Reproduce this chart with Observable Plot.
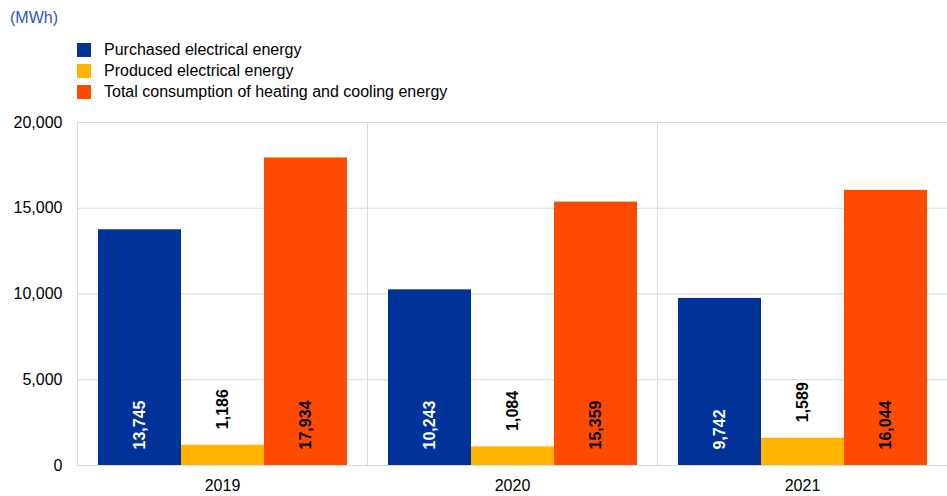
<!DOCTYPE html>
<html>
<head>
<meta charset="utf-8">
<script src="https://cdn.jsdelivr.net/npm/d3@7"></script>
<script src="https://cdn.jsdelivr.net/npm/@observablehq/plot@0.6"></script>
<style>
  html, body { margin: 0; padding: 0; background: #fff; }
  body { width: 947px; height: 496px; overflow: hidden; font-family: "Liberation Sans", Arial, sans-serif; }
  #header { position: relative; height: 105px; }
  #unit { position: absolute; left: 10px; top: 8px; font-size: 16px; color: #2a56c6; line-height: 20px; }
  #legend { position: absolute; left: 77px; top: 39px; font-size: 16px; color: #000; }
  .item { display: flex; align-items: center; height: 21.3px; }
  .sw { width: 14px; height: 14px; margin-right: 13px; flex: none; }
  #chart svg { display: block; }
</style>
</head>
<body>
<div id="header">
  <div id="unit">(MWh)</div>
  <div id="legend"></div>
</div>
<div id="chart"></div>
<script>
const years = ["2019", "2020", "2021"];
const series = [
  "Purchased electrical energy",
  "Produced electrical energy",
  "Total consumption of heating and cooling energy"
];
const purchased = [13745, 10243, 9742];
const produced = [1186, 1084, 1589];
const heating = [17934, 15359, 16044];
const yTicks = [0, 5000, 10000, 15000, 20000];
const colors = ["#003299", "#ffb400", "#ff4b00"];
const labelColors = ["#ffffff", "#000000", "#000000"];

const valuesBySeries = [purchased, produced, heating];
const rows = [];
years.forEach((year, i) => {
  series.forEach((s, j) => {
    rows.push({year, series: s, value: valuesBySeries[j][i]});
  });
});

// legend
const legend = d3.select("#legend");
series.forEach((s, j) => {
  const item = legend.append("div").attr("class", "item");
  item.append("div").attr("class", "sw").style("background", colors[j]);
  item.append("span").text(s);
});

const gridColor = "#d9d9d9";
const fmt = d3.format(",d");

function separators(index, scales, values, dimensions) {
  const g = d3.create("svg:g");
  g.append("line")
    .attr("x1", dimensions.marginLeft + 0.5)
    .attr("x2", dimensions.marginLeft + 0.5)
    .attr("y1", dimensions.marginTop)
    .attr("y2", dimensions.height - dimensions.marginBottom)
    .attr("stroke", gridColor);
  return g.node();
}

const labelMarks = series.map((s, j) => Plot.text(rows, {
  filter: d => d.series === s,
  fx: "year",
  x: "series",
  y: d => (j === 1 ? d.value : 0),
  text: d => fmt(d.value),
  rotate: -90,
  textAnchor: "start",
  dy: -16,
  fill: labelColors[j],
  fontWeight: "bold",
  fontSize: 16
}));

const chart = Plot.plot({
  width: 947,
  height: 391,
  marginLeft: 77,
  marginRight: 0,
  marginTop: 17,
  marginBottom: 31,
  style: {fontFamily: "'Liberation Sans', Arial, sans-serif", fontSize: "16px", color: "#000", background: "#fff"},
  fx: {domain: years, padding: 0, label: null, axis: "bottom", tickSize: 0, tickPadding: 14},
  x: {domain: series, paddingInner: 0, paddingOuter: 0.24, axis: null},
  y: {domain: [0, 20000], ticks: yTicks, tickFormat: fmt, tickSize: 0, tickPadding: 15, label: null},
  color: {domain: series, range: colors},
  marks: [
    Plot.ruleY(yTicks, {stroke: gridColor, strokeWidth: 1}),
    separators,
    Plot.barY(rows, {fx: "year", x: "series", y: "value", fill: "series"}),
    ...labelMarks
  ]
});
document.getElementById("chart").appendChild(chart);
</script>
</body>
</html>
